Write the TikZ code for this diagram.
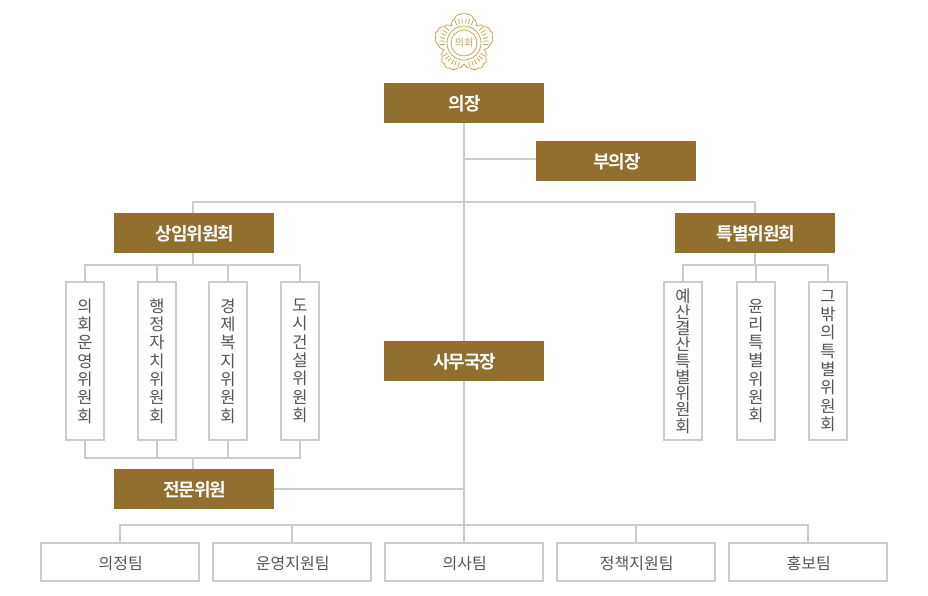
\documentclass[tikz,border=0pt]{standalone}
\usepackage{fontspec}
\setmainfont{Noto Sans CJK KR}
\newfontfamily\titlefont[LetterSpace=-6]{Noto Sans CJK KR Bold}
\usepackage{xcolor}
\definecolor{oro}{HTML}{926E2F}
\definecolor{orosuave}{HTML}{C8A45A}
\definecolor{linea}{HTML}{CCCCCC}
\definecolor{texto}{HTML}{555555}

\begin{document}
\begin{tikzpicture}[x=1pt, y=-1pt,
		titulo/.style={fill=oro, text=white, minimum width=160pt, minimum height=40pt, inner sep=0pt, text height=16pt, text depth=.5pt, execute at begin node=\hspace*{2pt}, font=\titlefont\fontsize{18}{18}\selectfont},
		equipo/.style={draw=linea, line width=2pt, fill=white, text=texto, minimum width=158pt, minimum height=38pt, inner sep=0pt, text height=14.5pt, text depth=.5pt, execute at begin node=\hspace*{1.5pt}, font=\fontsize{16}{16}\selectfont},
		comite/.style={draw=linea, line width=2pt, fill=white, text=texto, minimum width=38pt, minimum height=158pt, inner sep=0pt, align=center, font=\fontsize{16.5}{18.3}\selectfont},
		apretado/.style={comite, font=\fontsize{16.5}{16.25}\selectfont},
		enlace/.style={draw=linea, line width=2pt},
		emblema/.style={draw=orosuave, line width=0.8pt}
	]
	\useasboundingbox (0,0) rectangle (928,595);

	%Emblema
	\draw[emblema, shift={(464,43)}] plot[domain=0:360, samples=361, smooth] ({\x-90}:{21+8*abs(cos(2.5*\x))+1.1*abs(cos(12.5*\x))}) -- cycle;
	\foreach \lobulo in {0,72,...,288}{
		\foreach \rayo in {-22,-13,-5,5,13,22}{
			\draw[emblema] (464,43) ++({\lobulo+\rayo-90}:19.5) -- ++({\lobulo+\rayo-90}:5);
		}
	}
	\node[circle, draw=orosuave, line width=0.8pt, fill=white, minimum size=26pt, inner sep=0pt, text=orosuave, font=\fontsize{10}{10}\selectfont] (emblem) at (464,43) {의회};
	\draw[emblema] (emblem) circle (17);

	%Cargos
	\node[titulo] (jang) at (464,103) {의장};
	\node[titulo] (bujang) at (616,161) {부의장};
	\node[titulo] (sangim) at (194,233) {상임위원회};
	\node[titulo] (teukbyeol) at (755,233) {특별위원회};
	\node[titulo] (samu) at (464,361) {사무국장};
	\node[titulo] (jeonmun) at (194,489) {전문위원};

	%Comites
	\node[comite] (c1) at (85,361) {의\\회\\운\\영\\위\\원\\회};
	\node[comite] (c2) at (157,361) {행\\정\\자\\치\\위\\원\\회};
	\node[comite] (c3) at (228,361) {경\\제\\복\\지\\위\\원\\회};
	\node[comite] (c4) at (300,361) {도\\시\\건\\설\\위\\원\\회};
	\node[apretado] (e1) at (683,361) {예\\산\\결\\산\\특\\별\\위\\원\\회};
	\node[comite] (e2) at (756,361) {윤\\리\\특\\별\\위\\원\\회};
	\node[comite] (e3) at (828,361) {그\\밖\\의\\특\\별\\위\\원\\회};

	%Equipos
	\node[equipo] (t1) at (120,562) {의정팀};
	\node[equipo] (t2) at (292,562) {운영지원팀};
	\node[equipo] (t3) at (464,562) {의사팀};
	\node[equipo] (t4) at (636,562) {정책지원팀};
	\node[equipo] (t5) at (808,562) {홍보팀};

	%Puntos de reparto
	\coordinate (bus1) at (464,202);
	\coordinate (bus2) at (193,265);
	\coordinate (bus3) at (755,265);
	\coordinate (bus4) at (193,458);
	\coordinate (bus5) at (464,525);
	\coordinate (ramal) at (536,159);

	%Tronco central
	\draw[enlace] (jang) -- (samu);
	\draw[enlace] (samu) -- (t3);
	\draw[enlace] (ramal) -- (ramal -| jang);
	\draw[enlace] (jeonmun) -- (jeonmun -| samu);

	%Ramas superiores
	\draw[enlace] (bus2 |- sangim.north) |- (bus1);
	\draw[enlace] (teukbyeol) |- (bus1);

	%Comites con su titulo
	\draw[enlace] (bus2 |- sangim.south) -- (bus2);
	\draw[enlace] (c1) |- (bus2);
	\draw[enlace] (c2) -- (c2 |- bus2);
	\draw[enlace] (c3) -- (c3 |- bus2);
	\draw[enlace] (c4) |- (bus2);
	\draw[enlace] (teukbyeol) -- (bus3);
	\draw[enlace] (e1) |- (bus3);
	\draw[enlace] (e2) -- (e2 |- bus3);
	\draw[enlace] (e3) |- (bus3);

	%Comites con los asesores
	\draw[enlace] (bus4 |- jeonmun.north) -- (bus4);
	\draw[enlace] (c1) |- (bus4);
	\draw[enlace] (c2) -- (c2 |- bus4);
	\draw[enlace] (c3) -- (c3 |- bus4);
	\draw[enlace] (c4) |- (bus4);

	%Equipos de abajo
	\draw[enlace] (t1) |- (bus5);
	\draw[enlace] (t2) |- (bus5);
	\draw[enlace] (t4) |- (bus5);
	\draw[enlace] (t5) |- (bus5);
\end{tikzpicture}
\end{document}
